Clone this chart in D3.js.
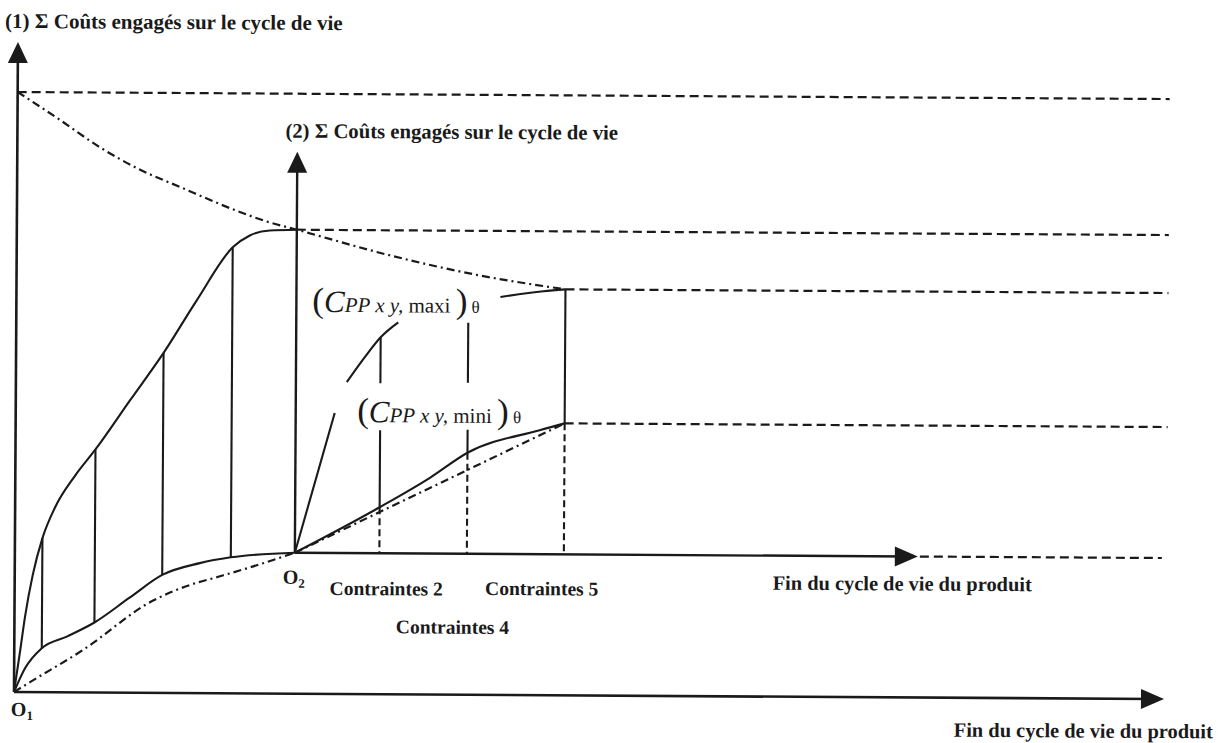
<!DOCTYPE html>
<html>
<head>
<meta charset="utf-8">
<script src="https://cdn.jsdelivr.net/npm/d3@7"></script>
<style>
    body { margin: 0; background: #fff; }
    svg text { font-family: "Liberation Serif", "Times New Roman", serif; fill: #1a1a1a; white-space: pre; }
</style>
</head>
<body>
<svg id="chart" width="1227" height="743"></svg>
<script>
// Diagram units: O1 = (0,0), horizontal = life cycle, vertical = cumulated costs

// (1) main diagram
const upperCurve = [[0, 0], [6, 42], [10.5, 75], [18, 117], [27.5, 154], [40, 185], [60, 217], [80, 243],
    [114, 292], [147.5, 340], [180.5, 393], [216, 446], [233, 458], [253, 463], [280, 464]];
const lowerCurve = [[0, 0], [11, 24], [27.5, 44], [53, 56], [80, 70], [115, 95], [147.5, 118],
    [185, 130], [216, 136], [280, 141]];
const lowerDashDot = [[0, 0], [16, 10], [68, 42], [138, 92], [175, 108], [202, 116], [235, 126], [280, 141]];
const upperDashDot = [[0, 600], [40, 574], [83, 545], [123, 523], [163, 506], [216, 484], [250, 472], [280, 464],
    [373, 439], [460, 420], [549, 406]];
const hatchX = [27.5, 80, 147.5, 216];

// (2) sub diagram starting at O2
const O2 = [280, 141];
const maxiPieces = [
    [[280, 141], [319, 281]],
    [[331, 312], [348, 336], [364.5, 357], [382, 372]],
    [[484, 398], [527, 404], [549, 406]]
];
const miniCurve = [[280, 141], [364.5, 187], [415, 217], [452, 242], [524, 265], [549, 272]];
const miniDashDot = [[280, 141], [549, 272]];
const constraintX = [364.5, 452, 549];
const constraintSolid = [[[357, 311], [264, 187]], [[372, 312], [265, 242]], [[406, 272]]];

// horizontal dashed levels and their starting points
const levels = [[0, 600], [280, 464], [549, 406], [549, 272]];
const levelEnd = 1152;

const constraintLabels = ['Contraintes 2', 'Contraintes 4', 'Contraintes 5'];
const axisTitles = ['(1) Σ Coûts engagés sur le cycle de vie', '(2) Σ Coûts engagés sur le cycle de vie'];
const endLabel = 'Fin du cycle de vie du produit';

const ink = '#1a1a1a';
const svg = d3.select('#chart');
const x = d3.scaleLinear().domain([0, 1150]).range([14, 1164]);
const y = d3.scaleLinear().domain([0, 650]).range([692, 42]);

// the scan is slightly skewed
const g = svg.append('g').attr('transform', 'rotate(0.35,14,692)');

const straight = d3.line().x(d => x(d[0])).y(d => y(d[1]));
const smooth = d3.line().x(d => x(d[0])).y(d => y(d[1])).curve(d3.curveMonotoneX);

function draw(data, gen, width, dash) {
    g.append('path')
        .attr('d', gen(data))
        .attr('fill', 'none')
        .attr('stroke', ink)
        .attr('stroke-width', width)
        .attr('stroke-dasharray', dash || null);
}

function valueAt(curve, u) {
    const i = d3.bisector(d => d[0]).left(curve, u);
    if (curve[i][0] === u) return curve[i][1];
    const a = curve[i - 1], b = curve[i];
    return a[1] + (b[1] - a[1]) * (u - a[0]) / (b[0] - a[0]);
}

function arrow(tip, dir) {
    // dir: 'up' or 'right'
    const L = dir === 'up' ? 21 : 23, hw = 10;
    const tx = x(tip[0]), ty = y(tip[1]);
    const pts = dir === 'up'
        ? [[tx, ty], [tx - hw, ty + L], [tx + hw, ty + L]]
        : [[tx, ty], [tx - L, ty - hw], [tx - L, ty + hw]];
    g.append('polygon').attr('points', pts.map(p => p.join(',')).join(' ')).attr('fill', ink);
}

// dashed levels
levels.forEach(l => draw([[l[0], l[1]], [levelEnd, l[1]]], straight, 2.2, '9,5'));
// continuation of O2 time axis
draw([[905, O2[1]], [levelEnd - 5, O2[1]]], straight, 2.2, '9,5');

// main axes
draw([[0, 0], [0, 640]], straight, 2.6);
draw([[0, 0], [1140, 0]], straight, 2.6);
arrow([0, 650], 'up');
arrow([1150, 0], 'right');

// sub axes
draw([O2, [O2[0], 532]], straight, 2.4);
draw([O2, [893, O2[1]]], straight, 2.4);
arrow([O2[0], 542], 'up');
arrow([903, O2[1]], 'right');

// dash-dot envelopes
draw(upperDashDot, smooth, 2.2, '8,4,2,4');
draw(lowerDashDot, smooth, 2.2, '8,4,2,4');
draw(miniDashDot, straight, 2.2, '8,4,2,4');

// main curves and hatching
draw(upperCurve, smooth, 2.1);
draw(lowerCurve, smooth, 2.1);
hatchX.forEach(u => draw([[u, valueAt(lowerCurve, u)], [u, valueAt(upperCurve, u)]], straight, 2.1));

// sub curves
maxiPieces.forEach(p => draw(p, p.length > 2 ? smooth : straight, 2.1));
draw(miniCurve, smooth, 2.1);
constraintX.forEach((u, i) => {
    constraintSolid[i].forEach(s => draw([[u, s[0]], [u, s[1]]], straight, 2.1));
    draw([[u, valueAt(miniCurve, u)], [u, O2[1]]], straight, 2.1, '7,4');
});

// texts
function label(u, v, txt, size) {
    return g.append('text').attr('x', x(u)).attr('y', y(v))
        .attr('font-size', size).attr('font-weight', 'bold').text(txt);
}
label(-13, 664, axisTitles[0], 21);
label(268, 556, axisTitles[1], 20.7);
label(758, 107, endLabel, 20.4);
label(940, -39, endLabel, 20.4);
label(315, 99, constraintLabels[0], 19.5);
label(381.5, 61, constraintLabels[1], 19.5);
label(470.5, 100, constraintLabels[2], 19.5);

function origin(u, v, idx) {
    const t = g.append('text').attr('x', x(u)).attr('y', y(v))
        .attr('font-size', 20).attr('font-weight', 'bold');
    t.append('tspan').text('O');
    t.append('tspan').attr('font-size', 13).attr('dy', 4).text(idx);
}
origin(-3, -24, '1');
origin(268, 110, '2');

function cLabel(u, v, tag) {
    const t = g.append('text').attr('x', x(u)).attr('y', y(v));
    t.append('tspan').attr('font-size', 35).text('(');
    t.append('tspan').attr('font-size', 31).attr('font-style', 'italic').text('C');
    t.append('tspan').attr('font-size', 21).attr('font-style', 'italic').text('PP x y,');
    t.append('tspan').attr('font-size', 21).text(' ' + tag + ' ');
    t.append('tspan').attr('font-size', 35).text(')');
    t.append('tspan').attr('font-size', 17).text(' θ');
}
cLabel(296, 382, 'maxi');
cLabel(341.5, 272, 'mini');
</script>
</body>
</html>
